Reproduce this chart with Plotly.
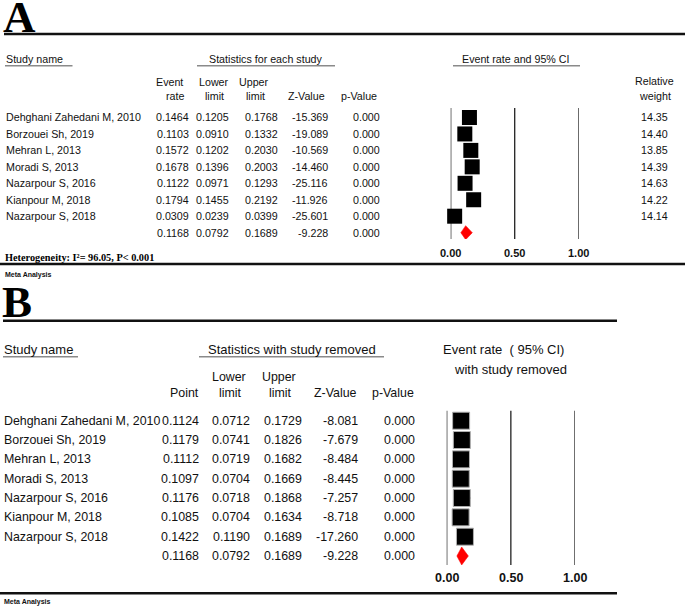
import plotly.graph_objects as go

# ---------------- data ----------------
studies = ["Dehghani Zahedani M, 2010", "Borzouei Sh, 2019", "Mehran L, 2013",
           "Moradi S, 2013", "Nazarpour S, 2016", "Kianpour M, 2018", "Nazarpour S, 2018"]

a_rate = [0.1464, 0.1103, 0.1572, 0.1678, 0.1122, 0.1794, 0.0309]
a_lower = [0.1205, 0.0910, 0.1202, 0.1396, 0.0971, 0.1455, 0.0239]
a_upper = [0.1768, 0.1332, 0.2030, 0.2003, 0.1293, 0.2192, 0.0399]
a_z = [-15.369, -19.089, -10.569, -14.460, -25.116, -11.926, -25.601]
a_p = [0.000, 0.000, 0.000, 0.000, 0.000, 0.000, 0.000]
a_weight = [14.35, 14.40, 13.85, 14.39, 14.63, 14.22, 14.14]

pooled_rate = 0.1168
pooled_lower = 0.0792
pooled_upper = 0.1689
pooled_z = -9.228
pooled_p = 0.000

b_point = [0.1124, 0.1179, 0.1112, 0.1097, 0.1176, 0.1085, 0.1422]
b_lower = [0.0712, 0.0741, 0.0719, 0.0704, 0.0718, 0.0704, 0.1190]
b_upper = [0.1729, 0.1826, 0.1682, 0.1669, 0.1868, 0.1634, 0.1689]
b_z = [-8.081, -7.679, -8.484, -8.445, -7.257, -8.718, -17.260]
b_p = [0.000, 0.000, 0.000, 0.000, 0.000, 0.000, 0.000]

tick_vals = [0.0, 0.5, 1.0]
tick_text = ["0.00", "0.50", "1.00"]

heterogeneity = "Heterogeneity: I²= 96.05, P< 0.001"

# ---------------- layout helpers ----------------
W, H = 685, 608
SANS = "Liberation Sans, Arial, sans-serif"
SERIF = "Liberation Serif, Times New Roman, serif"
TXT = "#111111"
FA = 10.7   # panel A text size
FB = 12.4   # panel B text size

fig = go.Figure()


def px(x):
    return x / W


def py(y):
    return 1 - y / H


def ann(text, x, y, size, anchor="left", bold=False, family=SANS, color=TXT):
    if bold:
        text = "<b>" + text + "</b>"
    fig.add_annotation(x=px(x), y=py(y), xref="paper", yref="paper", text=text,
                       showarrow=False, xanchor=anchor, yanchor="middle",
                       borderpad=0, borderwidth=0,
                       font=dict(size=size, family=family, color=color))


def hline(x0, x1, y, width, color="#111111"):
    fig.add_shape(type="line", xref="paper", yref="paper",
                  x0=px(x0), x1=px(x1), y0=py(y), y1=py(y),
                  line=dict(color=color, width=width))


n = len(studies)

# ---------------- panel A ----------------
A_ROW0, A_DY = 117.5, 16.45
A_TOP, A_BOT = 108, 239
A_X0, A_X1 = 450.7, 578.7


def ya(r):
    return A_ROW0 + A_DY * r


ann("A", 3, 17, 45, bold=True, family=SERIF, color="#000")
hline(4, 685, 34, 2.5)

ann("Study name", 6, 59, FA)
hline(5, 72.5, 65.7, 1.4, "#8a8a8a")
ann("Statistics for each study", 266, 59, FA, anchor="center")
hline(197, 335, 65.7, 1.4, "#8a8a8a")
ann("Event rate and 95% CI", 516, 59, FA, anchor="center")
hline(453, 580, 65.7, 1.4, "#8a8a8a")

ann("Event", 169, 81.5, FA, anchor="center")
ann("rate", 174.5, 96, FA, anchor="center")
ann("Lower", 213.5, 81.5, FA, anchor="center")
ann("limit", 214.5, 96, FA, anchor="center")
ann("Upper", 253.5, 81.5, FA, anchor="center")
ann("limit", 256, 96, FA, anchor="center")
ann("Z-Value", 306, 96, FA, anchor="center")
ann("p-Value", 358.5, 96, FA, anchor="center")
ann("Relative", 654, 81, FA, anchor="center")
ann("weight", 655, 95.5, FA, anchor="center")

for i in range(n):
    y = ya(i)
    ann(studies[i], 6, y, FA)
    ann(f"{a_rate[i]:.4f}", 189, y, FA, anchor="right")
    ann(f"{a_lower[i]:.4f}", 229, y, FA, anchor="right")
    ann(f"{a_upper[i]:.4f}", 278, y, FA, anchor="right")
    ann(f"{a_z[i]:.3f}", 328, y, FA, anchor="right")
    ann(f"{a_p[i]:.3f}", 380, y, FA, anchor="right")
    ann(f"{a_weight[i]:.2f}", 668, y, FA, anchor="right")

y = ya(n)
ann(f"{pooled_rate:.4f}", 189, y, FA, anchor="right")
ann(f"{pooled_lower:.4f}", 229, y, FA, anchor="right")
ann(f"{pooled_upper:.4f}", 278, y, FA, anchor="right")
ann(f"{pooled_z:.3f}", 328, y, FA, anchor="right")
ann(f"{pooled_p:.3f}", 380, y, FA, anchor="right")

ann(heterogeneity, 5, 257, 10.3, bold=True, family=SERIF, color="#000")
hline(0, 685, 264, 2.5)
ann("Meta Analysis", 5, 275, 7, bold=True)

rows_a = list(range(n))
fig.add_trace(go.Scatter(
    x=a_rate, y=rows_a, xaxis="x", yaxis="y", mode="markers",
    marker=dict(symbol="square", size=15, color="black", line=dict(width=0)),
    error_x=dict(type="data", symmetric=False,
                 array=[u - r for u, r in zip(a_upper, a_rate)],
                 arrayminus=[r - l for r, l in zip(a_rate, a_lower)],
                 color="black", thickness=1, width=0),
    cliponaxis=False, showlegend=False, hoverinfo="skip"))

ha = 7 / A_DY
fig.add_trace(go.Scatter(
    x=[pooled_lower, pooled_rate, pooled_upper, pooled_rate, pooled_lower],
    y=[n, n - ha, n, n + ha, n], xaxis="x", yaxis="y", mode="lines",
    fill="toself", fillcolor="#ff0000", line=dict(color="#ff0000", width=0.5),
    showlegend=False, hoverinfo="skip"))

for v, t in zip(tick_vals, tick_text):
    fig.add_shape(type="line", xref="x", yref="y domain", x0=v, x1=v, y0=0, y1=1,
                  line=dict(color="#222222", width=1.3), layer="below")
    fig.add_annotation(x=v, y=py(252.7), xref="x", yref="paper", text="<b>" + t + "</b>",
                       showarrow=False, xanchor="center", yanchor="middle",
                       borderpad=0, font=dict(size=11, family=SANS, color=TXT))

# ---------------- panel B ----------------
B_ROW0, B_DY = 420.7, 19.33
B_TOP, B_BOT = 410.7, 565
B_X0, B_X1 = 446.7, 575.0


def yb(r):
    return B_ROW0 + B_DY * r


ann("B", 2, 302, 45, bold=True, family=SERIF, color="#000")
hline(3, 617, 320.7, 2.5)

ann("Study name", 4, 349, 13)
hline(3, 78, 356.7, 1.4, "#8a8a8a")
ann("Statistics with study removed", 292, 349, 13, anchor="center")
hline(199, 384, 356.7, 1.4, "#8a8a8a")
ann("Event rate  ( 95% CI)", 504, 349, 13, anchor="center")
ann("with study removed", 510.5, 369, 13, anchor="center")

ann("Point", 199, 393, FB, anchor="right")
ann("Lower", 228.5, 377, FB, anchor="center")
ann("limit", 230.5, 393, FB, anchor="center")
ann("Upper", 279, 377, FB, anchor="center")
ann("limit", 280.5, 393, FB, anchor="center")
ann("Z-Value", 357, 393, FB, anchor="right")
ann("p-Value", 414, 393, FB, anchor="right")

for i in range(n):
    y = yb(i)
    ann(studies[i], 4, y, FB)
    ann(f"{b_point[i]:.4f}", 199, y, FB, anchor="right")
    ann(f"{b_lower[i]:.4f}", 250, y, FB, anchor="right")
    ann(f"{b_upper[i]:.4f}", 301.5, y, FB, anchor="right")
    ann(f"{b_z[i]:.3f}", 357.5, y, FB, anchor="right")
    ann(f"{b_p[i]:.3f}", 415, y, FB, anchor="right")

y = yb(n)
ann(f"{pooled_rate:.4f}", 199, y, FB, anchor="right")
ann(f"{pooled_lower:.4f}", 250, y, FB, anchor="right")
ann(f"{pooled_upper:.4f}", 301.5, y, FB, anchor="right")
ann(f"{pooled_z:.3f}", 357.5, y, FB, anchor="right")
ann(f"{pooled_p:.3f}", 415, y, FB, anchor="right")

hline(0, 617, 593.3, 2.5)
ann("Meta Analysis", 4, 601.5, 7, bold=True)

rows_b = list(range(n))
fig.add_trace(go.Scatter(
    x=b_point, y=rows_b, xaxis="x2", yaxis="y2", mode="markers",
    marker=dict(symbol="square", size=17, color="black", line=dict(width=1, color="#b0b0b0")),
    error_x=dict(type="data", symmetric=False,
                 array=[u - r for u, r in zip(b_upper, b_point)],
                 arrayminus=[r - l for r, l in zip(b_point, b_lower)],
                 color="black", thickness=1, width=0),
    cliponaxis=False, showlegend=False, hoverinfo="skip"))

hb = 9 / B_DY
fig.add_trace(go.Scatter(
    x=[pooled_lower, pooled_rate, pooled_upper, pooled_rate, pooled_lower],
    y=[n, n - hb, n, n + hb, n], xaxis="x2", yaxis="y2", mode="lines",
    fill="toself", fillcolor="#ff0000", line=dict(color="#ff0000", width=0.5),
    showlegend=False, hoverinfo="skip"))

for v, t in zip(tick_vals, tick_text):
    fig.add_shape(type="line", xref="x2", yref="y2 domain", x0=v, x1=v, y0=0, y1=1,
                  line=dict(color="#222222", width=1.3), layer="below")
    fig.add_annotation(x=v, y=py(578.3), xref="x2", yref="paper", text="<b>" + t + "</b>",
                       showarrow=False, xanchor="center", yanchor="middle",
                       borderpad=0, font=dict(size=12.5, family=SANS, color=TXT))

# ---------------- axes ----------------
axis_off = dict(showgrid=False, zeroline=False, showticklabels=False, showline=False,
                ticks="", fixedrange=True)

fig.update_layout(
    width=W, height=H,
    margin=dict(l=0, r=0, t=0, b=0),
    paper_bgcolor="white", plot_bgcolor="rgba(0,0,0,0)",
    showlegend=False,
    xaxis=dict(domain=[px(A_X0), px(A_X1)], range=[0, 1], **axis_off),
    yaxis=dict(domain=[py(A_BOT), py(A_TOP)],
               range=[(A_BOT - A_ROW0) / A_DY, (A_TOP - A_ROW0) / A_DY], **axis_off),
    xaxis2=dict(domain=[px(B_X0), px(B_X1)], range=[0, 1], anchor="y2", **axis_off),
    yaxis2=dict(domain=[py(B_BOT), py(B_TOP)], anchor="x2",
                range=[(B_BOT - B_ROW0) / B_DY, (B_TOP - B_ROW0) / B_DY], **axis_off),
)

fig.write_html("out.html", config={"displayModeBar": False},
               post_script="document.body.style.margin='0';document.body.style.overflow='hidden';")
